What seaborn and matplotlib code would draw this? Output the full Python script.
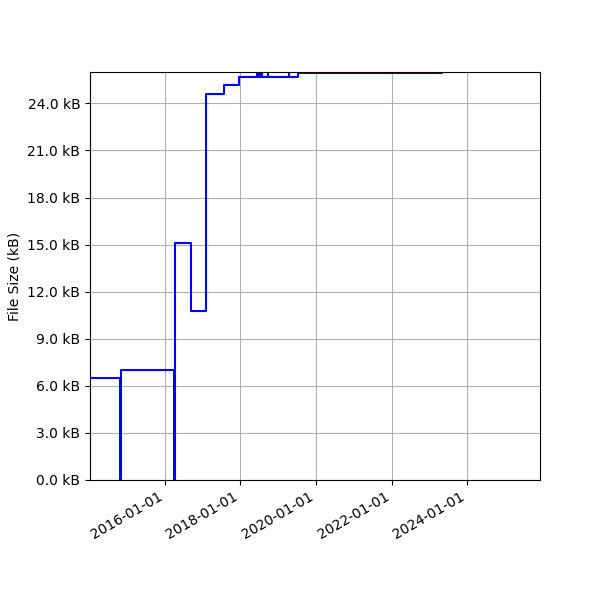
import pandas as pd
import matplotlib
matplotlib.use("Agg")
import matplotlib.pyplot as plt
import matplotlib.dates as mdates
from matplotlib.ticker import MultipleLocator, StrMethodFormatter
import seaborn as sns

sns.set_style("ticks")
plt.rcParams.update({
    "text.color": "black",
    "axes.labelcolor": "black",
    "xtick.color": "black",
    "ytick.color": "black",
    "axes.edgecolor": "black",
})

# --- File size history (kB), step changes ---
dates = [
    "2014-01-08", "2014-10-27", "2014-11-06", "2016-03-28", "2016-04-04",
    "2016-09-09", "2017-01-30", "2017-07-24", "2017-12-17",
    "2018-06-06", "2018-06-13", "2018-06-20", "2018-06-27",
    "2018-07-23", "2018-07-30", "2018-09-20", "2018-09-27",
    "2019-04-12", "2019-04-19", "2019-07-16", "2023-05-08",
]
sizes_kb = [
    6.5, 0.0, 7.0, 0.0, 15.1,
    10.8, 24.6, 25.15, 25.65,
    25.93, 25.65, 25.93, 25.65,
    25.93, 25.65, 25.93, 25.65,
    25.93, 25.65, 25.93, 25.93,
]

df = pd.DataFrame({"date": pd.to_datetime(dates), "size": sizes_kb})

fig, ax = plt.subplots(figsize=(6, 6), dpi=100)
sns.lineplot(data=df, x="date", y="size", ax=ax, color="blue",
             drawstyle="steps-post", sort=False, estimator=None, linewidth=1.5)

ax.set_xlim(pd.Timestamp("2014-01-08"), pd.Timestamp("2025-12-06"))
ax.set_ylim(0, 26.0)
ax.yaxis.set_major_locator(MultipleLocator(3))
ax.yaxis.set_major_formatter(StrMethodFormatter("{x:.1f} kB"))
ax.xaxis.set_major_locator(mdates.YearLocator(2))
ax.xaxis.set_major_formatter(mdates.DateFormatter("%Y-%m-%d"))
ax.set_xlabel("")
ax.set_ylabel("File Size (kB)")
ax.grid(True, color="#b0b0b0", linewidth=0.8)
for s in ax.spines.values():
    s.set_visible(True)
    s.set_color("black")
    s.set_linewidth(0.8)

fig.autofmt_xdate()
fig.subplots_adjust(left=0.15, right=0.9, top=0.88, bottom=0.2)
fig.savefig("out.png", dpi=100)
